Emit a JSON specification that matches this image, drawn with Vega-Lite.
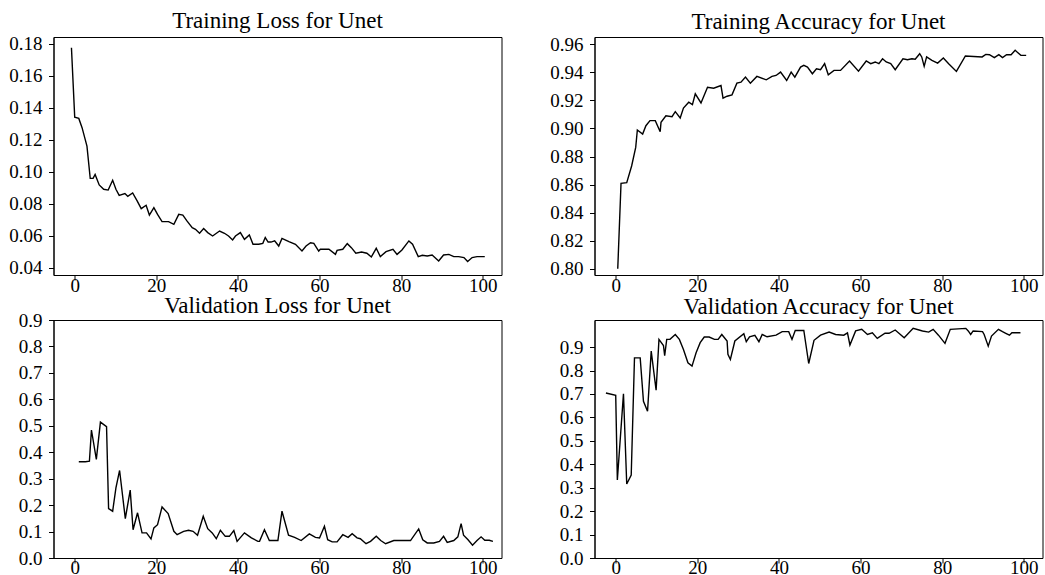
{
  "$schema": "https://vega.github.io/schema/vega-lite/v6.json",
  "background": "white",
  "padding": {"left": 7.5, "top": 9, "right": 0, "bottom": 0},
  "bounds": "flush",
  "columns": 2,
  "spacing": {"row": 45, "column": 93},
  "datasets": {
    "tl": [
      {"epoch": -0.8, "value": 0.1775}, {"epoch": 0, "value": 0.134}, {"epoch": 1, "value": 0.1333}, {"epoch": 1.8, "value": 0.1275},
      {"epoch": 3, "value": 0.116}, {"epoch": 3.8, "value": 0.0958}, {"epoch": 4.5, "value": 0.0958}, {"epoch": 5, "value": 0.0983},
      {"epoch": 6, "value": 0.0917}, {"epoch": 7.1, "value": 0.089}, {"epoch": 8.2, "value": 0.0885}, {"epoch": 9.3, "value": 0.0946},
      {"epoch": 10.1, "value": 0.089}, {"epoch": 10.9, "value": 0.0852}, {"epoch": 12.3, "value": 0.0863}, {"epoch": 13, "value": 0.0846},
      {"epoch": 14.2, "value": 0.0867}, {"epoch": 15.3, "value": 0.0817}, {"epoch": 16.3, "value": 0.0769}, {"epoch": 17.5, "value": 0.079},
      {"epoch": 18.3, "value": 0.0729}, {"epoch": 19.4, "value": 0.0775}, {"epoch": 20.3, "value": 0.0733}, {"epoch": 21.4, "value": 0.0688},
      {"epoch": 23, "value": 0.0688}, {"epoch": 24.3, "value": 0.0671}, {"epoch": 25.5, "value": 0.0733}, {"epoch": 26.5, "value": 0.0729},
      {"epoch": 27.5, "value": 0.0692}, {"epoch": 28.8, "value": 0.065}, {"epoch": 29.6, "value": 0.064}, {"epoch": 30.6, "value": 0.0615},
      {"epoch": 31.6, "value": 0.0644}, {"epoch": 32.6, "value": 0.0619}, {"epoch": 33.8, "value": 0.0598}, {"epoch": 35.5, "value": 0.0629},
      {"epoch": 36.7, "value": 0.0615}, {"epoch": 37.7, "value": 0.0598}, {"epoch": 38.7, "value": 0.0573}, {"epoch": 39.4, "value": 0.0598},
      {"epoch": 40.6, "value": 0.0619}, {"epoch": 41.6, "value": 0.0577}, {"epoch": 42.8, "value": 0.0604}, {"epoch": 43.7, "value": 0.0546},
      {"epoch": 45.1, "value": 0.0546}, {"epoch": 46.1, "value": 0.0552}, {"epoch": 46.7, "value": 0.0588}, {"epoch": 47.4, "value": 0.056},
      {"epoch": 48.1, "value": 0.056}, {"epoch": 49, "value": 0.0567}, {"epoch": 50, "value": 0.0535}, {"epoch": 50.8, "value": 0.0583},
      {"epoch": 52.5, "value": 0.0563}, {"epoch": 54.1, "value": 0.0546}, {"epoch": 55.7, "value": 0.0504}, {"epoch": 56.7, "value": 0.0535},
      {"epoch": 57.8, "value": 0.0556}, {"epoch": 58.6, "value": 0.0552}, {"epoch": 59.8, "value": 0.0504}, {"epoch": 60.2, "value": 0.0515},
      {"epoch": 62.3, "value": 0.0515}, {"epoch": 63.9, "value": 0.0483}, {"epoch": 64.3, "value": 0.0508}, {"epoch": 65.7, "value": 0.0515},
      {"epoch": 66.8, "value": 0.055}, {"epoch": 67.8, "value": 0.0525}, {"epoch": 68.9, "value": 0.049}, {"epoch": 70.3, "value": 0.0498},
      {"epoch": 71.6, "value": 0.049}, {"epoch": 72.7, "value": 0.0467}, {"epoch": 73.9, "value": 0.0521}, {"epoch": 74.9, "value": 0.0469},
      {"epoch": 76.3, "value": 0.05}, {"epoch": 78, "value": 0.0515}, {"epoch": 79, "value": 0.0483}, {"epoch": 80.2, "value": 0.051},
      {"epoch": 81.9, "value": 0.0567}, {"epoch": 82.8, "value": 0.0546}, {"epoch": 84.2, "value": 0.0469}, {"epoch": 85.2, "value": 0.0477},
      {"epoch": 86.4, "value": 0.0473}, {"epoch": 87.6, "value": 0.0479}, {"epoch": 89.2, "value": 0.0442}, {"epoch": 90.4, "value": 0.0479},
      {"epoch": 91.7, "value": 0.0483}, {"epoch": 92.9, "value": 0.0469}, {"epoch": 94.1, "value": 0.0469}, {"epoch": 95.4, "value": 0.0463},
      {"epoch": 96.3, "value": 0.0438}, {"epoch": 97.4, "value": 0.0463}, {"epoch": 98.6, "value": 0.0469}, {"epoch": 100.5, "value": 0.0469}
    ],
    "tr": [
      {"epoch": 0.5, "value": 0.8}, {"epoch": 1.3, "value": 0.8609}, {"epoch": 2.7, "value": 0.8614}, {"epoch": 3.9, "value": 0.8733},
      {"epoch": 4.9, "value": 0.8865}, {"epoch": 5.3, "value": 0.8989}, {"epoch": 6.6, "value": 0.896}, {"epoch": 7.4, "value": 0.902},
      {"epoch": 8.4, "value": 0.9056}, {"epoch": 9.7, "value": 0.9056}, {"epoch": 10.9, "value": 0.8977}, {"epoch": 11.1, "value": 0.9044},
      {"epoch": 12.3, "value": 0.9091}, {"epoch": 13.8, "value": 0.9084}, {"epoch": 14.6, "value": 0.912}, {"epoch": 15.8, "value": 0.9075},
      {"epoch": 16.6, "value": 0.9146}, {"epoch": 17.9, "value": 0.9187}, {"epoch": 18.8, "value": 0.917}, {"epoch": 19.5, "value": 0.9247},
      {"epoch": 20.9, "value": 0.9182}, {"epoch": 22.5, "value": 0.9294}, {"epoch": 24, "value": 0.9287}, {"epoch": 25.8, "value": 0.9306},
      {"epoch": 26.3, "value": 0.9216}, {"epoch": 27.3, "value": 0.923}, {"epoch": 28.5, "value": 0.924}, {"epoch": 29.7, "value": 0.9323},
      {"epoch": 30.7, "value": 0.933}, {"epoch": 31.8, "value": 0.9366}, {"epoch": 33, "value": 0.9323}, {"epoch": 34.6, "value": 0.9371},
      {"epoch": 36.9, "value": 0.9347}, {"epoch": 38.3, "value": 0.9371}, {"epoch": 39.3, "value": 0.9378}, {"epoch": 40.4, "value": 0.9402},
      {"epoch": 41.9, "value": 0.9342}, {"epoch": 43, "value": 0.9402}, {"epoch": 43.9, "value": 0.9366}, {"epoch": 45.3, "value": 0.9438},
      {"epoch": 46.1, "value": 0.945}, {"epoch": 47, "value": 0.9438}, {"epoch": 48.2, "value": 0.939}, {"epoch": 49.2, "value": 0.9426},
      {"epoch": 50.2, "value": 0.9419}, {"epoch": 51.2, "value": 0.9462}, {"epoch": 52.1, "value": 0.9383}, {"epoch": 53.5, "value": 0.9414},
      {"epoch": 55.1, "value": 0.9414}, {"epoch": 57.3, "value": 0.9481}, {"epoch": 59.5, "value": 0.9409}, {"epoch": 61.4, "value": 0.9481},
      {"epoch": 62.5, "value": 0.9462}, {"epoch": 63.6, "value": 0.9474}, {"epoch": 64.5, "value": 0.9462}, {"epoch": 65.4, "value": 0.9497},
      {"epoch": 66.3, "value": 0.9474}, {"epoch": 67.4, "value": 0.9462}, {"epoch": 68.5, "value": 0.9419}, {"epoch": 70.4, "value": 0.9497},
      {"epoch": 71.5, "value": 0.949}, {"epoch": 72.6, "value": 0.9497}, {"epoch": 73.4, "value": 0.9493}, {"epoch": 74.5, "value": 0.9533},
      {"epoch": 75, "value": 0.951}, {"epoch": 75.6, "value": 0.9443}, {"epoch": 76.2, "value": 0.951}, {"epoch": 77.5, "value": 0.9486},
      {"epoch": 78.9, "value": 0.9466}, {"epoch": 80.3, "value": 0.9502}, {"epoch": 81.6, "value": 0.9462}, {"epoch": 83.5, "value": 0.9407},
      {"epoch": 85.7, "value": 0.9517}, {"epoch": 89.8, "value": 0.951}, {"epoch": 90.7, "value": 0.9528}, {"epoch": 91.6, "value": 0.9526},
      {"epoch": 92.8, "value": 0.9505}, {"epoch": 93.9, "value": 0.9526}, {"epoch": 94.8, "value": 0.9505}, {"epoch": 95.8, "value": 0.9526},
      {"epoch": 96.9, "value": 0.9526}, {"epoch": 97.9, "value": 0.9557}, {"epoch": 99.3, "value": 0.9521}, {"epoch": 100.6, "value": 0.9521}
    ],
    "bl": [
      {"epoch": 1, "value": 0.364}, {"epoch": 2.6, "value": 0.364}, {"epoch": 3.6, "value": 0.366}, {"epoch": 4.1, "value": 0.484},
      {"epoch": 5.3, "value": 0.373}, {"epoch": 6.3, "value": 0.514}, {"epoch": 7.8, "value": 0.497}, {"epoch": 8.3, "value": 0.187},
      {"epoch": 9.3, "value": 0.177}, {"epoch": 10.1, "value": 0.265}, {"epoch": 11, "value": 0.331}, {"epoch": 12.4, "value": 0.149},
      {"epoch": 13.6, "value": 0.257}, {"epoch": 14.3, "value": 0.107}, {"epoch": 15.4, "value": 0.171}, {"epoch": 16.5, "value": 0.095},
      {"epoch": 17.6, "value": 0.095}, {"epoch": 18.7, "value": 0.072}, {"epoch": 19.4, "value": 0.114}, {"epoch": 20.3, "value": 0.126},
      {"epoch": 21.4, "value": 0.193}, {"epoch": 22.9, "value": 0.168}, {"epoch": 24.3, "value": 0.101}, {"epoch": 25.1, "value": 0.088},
      {"epoch": 26.7, "value": 0.101}, {"epoch": 27.9, "value": 0.105}, {"epoch": 29, "value": 0.101}, {"epoch": 30.1, "value": 0.086},
      {"epoch": 31.5, "value": 0.158}, {"epoch": 32.6, "value": 0.111}, {"epoch": 33.7, "value": 0.095}, {"epoch": 34.7, "value": 0.073},
      {"epoch": 35.7, "value": 0.105}, {"epoch": 36.9, "value": 0.082}, {"epoch": 37.9, "value": 0.082}, {"epoch": 39, "value": 0.104},
      {"epoch": 39.8, "value": 0.063}, {"epoch": 41.6, "value": 0.095}, {"epoch": 43.3, "value": 0.076}, {"epoch": 44.9, "value": 0.063},
      {"epoch": 45.3, "value": 0.063}, {"epoch": 46.5, "value": 0.107}, {"epoch": 47.7, "value": 0.066}, {"epoch": 49.8, "value": 0.066},
      {"epoch": 50.8, "value": 0.177}, {"epoch": 52.4, "value": 0.086}, {"epoch": 53.9, "value": 0.078}, {"epoch": 55.5, "value": 0.066},
      {"epoch": 57.5, "value": 0.091}, {"epoch": 59, "value": 0.078}, {"epoch": 60, "value": 0.076}, {"epoch": 61.2, "value": 0.12},
      {"epoch": 62, "value": 0.069}, {"epoch": 63.1, "value": 0.061}, {"epoch": 64.3, "value": 0.061}, {"epoch": 65.7, "value": 0.088},
      {"epoch": 67, "value": 0.078}, {"epoch": 68, "value": 0.092}, {"epoch": 69.2, "value": 0.076}, {"epoch": 70, "value": 0.073},
      {"epoch": 71.4, "value": 0.054}, {"epoch": 72.5, "value": 0.063}, {"epoch": 73.9, "value": 0.082}, {"epoch": 75, "value": 0.066},
      {"epoch": 76.2, "value": 0.054}, {"epoch": 78.2, "value": 0.066}, {"epoch": 82.3, "value": 0.066}, {"epoch": 84.3, "value": 0.11},
      {"epoch": 85.3, "value": 0.069}, {"epoch": 86.4, "value": 0.057}, {"epoch": 88, "value": 0.057}, {"epoch": 89.4, "value": 0.063},
      {"epoch": 90.4, "value": 0.082}, {"epoch": 91.3, "value": 0.059}, {"epoch": 92.9, "value": 0.066}, {"epoch": 93.9, "value": 0.08},
      {"epoch": 94.7, "value": 0.13}, {"epoch": 95.3, "value": 0.086}, {"epoch": 96.4, "value": 0.069}, {"epoch": 97.5, "value": 0.048},
      {"epoch": 98.6, "value": 0.066}, {"epoch": 99.6, "value": 0.08}, {"epoch": 100.5, "value": 0.067}, {"epoch": 101.6, "value": 0.067},
      {"epoch": 102.5, "value": 0.063}
    ],
    "br": [
      {"epoch": -2.4, "value": 0.704}, {"epoch": 0, "value": 0.694}, {"epoch": 0.4, "value": 0.333}, {"epoch": 1.9, "value": 0.701},
      {"epoch": 2.7, "value": 0.316}, {"epoch": 3.8, "value": 0.354}, {"epoch": 4.6, "value": 0.854}, {"epoch": 6, "value": 0.854},
      {"epoch": 6.8, "value": 0.669}, {"epoch": 7.8, "value": 0.626}, {"epoch": 8.7, "value": 0.883}, {"epoch": 9.9, "value": 0.716},
      {"epoch": 10.6, "value": 0.933}, {"epoch": 11.7, "value": 0.907}, {"epoch": 12, "value": 0.864}, {"epoch": 12.5, "value": 0.933},
      {"epoch": 13.3, "value": 0.933}, {"epoch": 14.6, "value": 0.954}, {"epoch": 15.6, "value": 0.933}, {"epoch": 16.6, "value": 0.89},
      {"epoch": 17.7, "value": 0.833}, {"epoch": 18.7, "value": 0.819}, {"epoch": 19.7, "value": 0.876}, {"epoch": 20.7, "value": 0.919},
      {"epoch": 21.7, "value": 0.943}, {"epoch": 22.9, "value": 0.943}, {"epoch": 24.2, "value": 0.933}, {"epoch": 25.1, "value": 0.933},
      {"epoch": 26, "value": 0.954}, {"epoch": 27.3, "value": 0.926}, {"epoch": 27.5, "value": 0.869}, {"epoch": 28.1, "value": 0.847},
      {"epoch": 29.2, "value": 0.926}, {"epoch": 31.4, "value": 0.957}, {"epoch": 32, "value": 0.923}, {"epoch": 32.8, "value": 0.944},
      {"epoch": 34.1, "value": 0.95}, {"epoch": 35.1, "value": 0.923}, {"epoch": 35.9, "value": 0.954}, {"epoch": 37.1, "value": 0.944},
      {"epoch": 39.3, "value": 0.951}, {"epoch": 40.8, "value": 0.966}, {"epoch": 42.4, "value": 0.966}, {"epoch": 43.2, "value": 0.933},
      {"epoch": 44, "value": 0.971}, {"epoch": 46.1, "value": 0.971}, {"epoch": 47.3, "value": 0.83}, {"epoch": 48.6, "value": 0.929},
      {"epoch": 50.2, "value": 0.951}, {"epoch": 52.3, "value": 0.964}, {"epoch": 53.9, "value": 0.954}, {"epoch": 55.9, "value": 0.951},
      {"epoch": 56.8, "value": 0.961}, {"epoch": 57.4, "value": 0.909}, {"epoch": 58.8, "value": 0.969}, {"epoch": 60.3, "value": 0.976},
      {"epoch": 61.7, "value": 0.954}, {"epoch": 62.9, "value": 0.961}, {"epoch": 64.1, "value": 0.937}, {"epoch": 66, "value": 0.959},
      {"epoch": 67, "value": 0.959}, {"epoch": 68.5, "value": 0.973}, {"epoch": 70.7, "value": 0.94}, {"epoch": 72.9, "value": 0.98},
      {"epoch": 75.2, "value": 0.969}, {"epoch": 76.7, "value": 0.964}, {"epoch": 77.8, "value": 0.976}, {"epoch": 79.1, "value": 0.951},
      {"epoch": 80.7, "value": 0.916}, {"epoch": 82, "value": 0.976}, {"epoch": 85.8, "value": 0.98}, {"epoch": 86.4, "value": 0.969},
      {"epoch": 87, "value": 0.954}, {"epoch": 87.6, "value": 0.969}, {"epoch": 89.9, "value": 0.966}, {"epoch": 90.3, "value": 0.954},
      {"epoch": 91.3, "value": 0.904}, {"epoch": 92.1, "value": 0.947}, {"epoch": 93.8, "value": 0.976}, {"epoch": 94.8, "value": 0.966},
      {"epoch": 95.6, "value": 0.959}, {"epoch": 96.5, "value": 0.951}, {"epoch": 97.1, "value": 0.961}, {"epoch": 99.2, "value": 0.961}
    ]
  },
  "concat": [
    {
      "title": "Training Loss for Unet",
      "width": 448, "height": 238,
      "data": {"name": "tl"},
      "mark": {"type": "line", "color": "black", "strokeWidth": 1.4, "clip": true},
      "encoding": {
        "x": {"field": "epoch", "type": "quantitative", "scale": {"domain": [-5.2, 104.6], "nice": false, "zero": false}, "axis": {"values": [0, 20, 40, 60, 80, 100], "title": null, "labelPadding": -4}},
        "y": {"field": "value", "type": "quantitative", "scale": {"domain": [0.0354, 0.1842], "nice": false, "zero": false}, "axis": {"values": [0.04, 0.06, 0.08, 0.1, 0.12, 0.14, 0.16, 0.18], "format": ".2f", "title": null, "labelPadding": 6.5}}
      }
    },
    {
      "title": "Training Accuracy for Unet",
      "width": 448, "height": 238,
      "data": {"name": "tr"},
      "mark": {"type": "line", "color": "black", "strokeWidth": 1.4, "clip": true},
      "encoding": {
        "x": {"field": "epoch", "type": "quantitative", "scale": {"domain": [-5.2, 104.6], "nice": false, "zero": false}, "axis": {"values": [0, 20, 40, 60, 80, 100], "title": null, "labelPadding": -4}},
        "y": {"field": "value", "type": "quantitative", "scale": {"domain": [0.7956, 0.9652], "nice": false, "zero": false}, "axis": {"values": [0.8, 0.82, 0.84, 0.86, 0.88, 0.9, 0.92, 0.94, 0.96], "format": ".2f", "title": null, "labelPadding": 6.5}}
      }
    },
    {
      "title": {"text": "Validation Loss for Unet", "offset": -7},
      "width": 448, "height": 238,
      "data": {"name": "bl"},
      "mark": {"type": "line", "color": "black", "strokeWidth": 1.4, "clip": true},
      "encoding": {
        "x": {"field": "epoch", "type": "quantitative", "scale": {"domain": [-5.2, 104.6], "nice": false, "zero": false}, "axis": {"values": [0, 20, 40, 60, 80, 100], "title": null, "labelPadding": -4.5}},
        "y": {"field": "value", "type": "quantitative", "scale": {"domain": [0, 0.9], "nice": false, "zero": false}, "axis": {"values": [0, 0.1, 0.2, 0.3, 0.4, 0.5, 0.6, 0.7, 0.8, 0.9], "format": ".1f", "title": null, "labelPadding": 6.5}}
      }
    },
    {
      "title": {"text": "Validation Accuracy for Unet", "offset": 1.5},
      "width": 448, "height": 238,
      "data": {"name": "br"},
      "mark": {"type": "line", "color": "black", "strokeWidth": 1.4, "clip": true},
      "encoding": {
        "x": {"field": "epoch", "type": "quantitative", "scale": {"domain": [-5.2, 104.6], "nice": false, "zero": false}, "axis": {"values": [0, 20, 40, 60, 80, 100], "title": null, "labelPadding": -4.5}},
        "y": {"field": "value", "type": "quantitative", "scale": {"domain": [0, 1.0157], "nice": false, "zero": false}, "axis": {"values": [0, 0.1, 0.2, 0.3, 0.4, 0.5, 0.6, 0.7, 0.8, 0.9], "format": ".1f", "title": null, "labelPadding": 6.5}}
      }
    }
  ],
  "config": {
    "font": "Liberation Serif",
    "view": {"stroke": "black", "strokeWidth": 1},
    "axis": {
      "labelFont": "Liberation Serif", "labelFontSize": 19, "labelColor": "black",
      "domainColor": "black", "domainWidth": 1, "tickColor": "black", "tickWidth": 1,
      "tickSize": 5, "grid": false, "labelOverlap": false, "labelFlush": false
    },
    "title": {"font": "Liberation Serif", "fontSize": 23, "fontWeight": "normal", "color": "black", "offset": 1.5, "anchor": "middle", "baseline": "alphabetic"}
  }
}
